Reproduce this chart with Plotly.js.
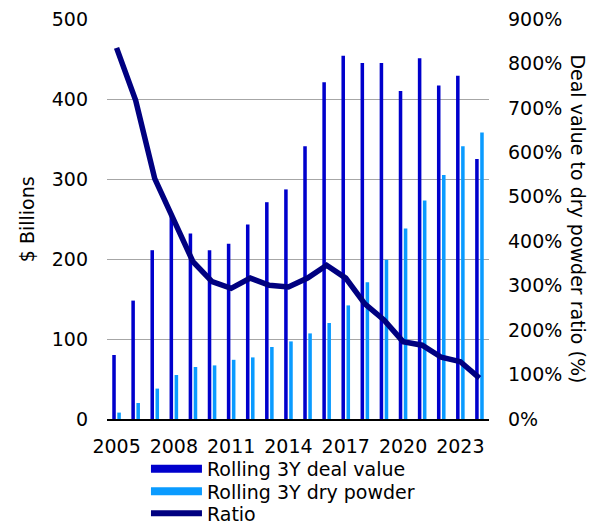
<!DOCTYPE html>
<html>
<head>
<meta charset="utf-8">
<script src="https://cdn.plot.ly/plotly-3.0.1.min.js"></script>
<style>html,body{margin:0;padding:0;background:#fff;}#chart{width:590px;height:525px;}</style>
</head>
<body>
<div id="chart"></div>
<script>
var years = [2005,2006,2007,2008,2009,2010,2011,2012,2013,2014,2015,2016,2017,2018,2019,2020,2021,2022,2023,2024];
var dealValue = [80,148,211,254,232,211,219,243,271,287,341,421,454,445,445,410,451,417,429,325];
var dryPowder = [8,20,38,55,65,67,74,77,90,97,107,120,142,171,199,238,273,305,341,358];
var ratio = [835,717,541,450,354,309,294,317,301,297,317,346,317,259,223,174,166,139,129,92];
var tickYears = [2005,2008,2011,2014,2017,2020,2023];
var seriesNames = ['Rolling 3Y deal value','Rolling 3Y dry powder','Ratio'];

var cDeal = '#0000CC', cPowder = '#0A9BFF', cRatio = '#000080';
var font = {family: 'DejaVu Sans, sans-serif', size: 19, color: '#000'};

var traces = [
  {type:'bar', x:years, y:dealValue, name:seriesNames[0], marker:{color:cDeal}, showlegend:false, hoverinfo:'y'},
  {type:'bar', x:years, y:dryPowder, name:seriesNames[1], marker:{color:cPowder}, showlegend:false, hoverinfo:'y'},
  {type:'scatter', mode:'lines', x:years, y:ratio, yaxis:'y2', name:seriesNames[2], line:{color:cRatio, width:5.5}, showlegend:false},
  {type:'scatter', mode:'lines', x:[null], y:[null], name:seriesNames[0], line:{color:cDeal, width:8}, legend:'legend'},
  {type:'scatter', mode:'lines', x:[null], y:[null], name:seriesNames[1], line:{color:cPowder, width:8}, legend:'legend2'},
  {type:'scatter', mode:'lines', x:[null], y:[null], name:seriesNames[2], line:{color:cRatio, width:6}, legend:'legend3'}
];

function leg(yc) {
  return {orientation:'v', x:0.102, xanchor:'left', yref:'container', y:yc, yanchor:'middle',
    font:font, itemwidth:51, tracegroupgap:0, bgcolor:'rgba(0,0,0,0)'};
}

var layout = {
  width:590, height:525,
  margin:{l:107, r:101, t:19, b:106, pad:0, autoexpand:false},
  paper_bgcolor:'#fff', plot_bgcolor:'#fff',
  font: font,
  barmode:'group', bargap:0.47, bargroupgap:0.3,
  xaxis:{
    range:[2004.5, 2024.5], tickvals:tickYears, ticktext:tickYears.map(String),
    showgrid:false, zeroline:false, showline:true, linecolor:'#000', linewidth:2,
    ticks:'', ticklabelstandoff:9, tickfont:font, automargin:false
  },
  yaxis:{
    range:[0,500], dtick:100, showgrid:true, gridcolor:'#A6A6A6', gridwidth:1,
    zeroline:false, showline:false, ticks:'', ticklabelstandoff:18, tickfont:font, automargin:false
  },
  yaxis2:{
    overlaying:'y', side:'right', range:[0,900], dtick:100, ticksuffix:'%',
    showgrid:false, zeroline:false, showline:false, ticks:'', ticklabelstandoff:18, tickfont:font, automargin:false
  },
  legend: leg(1 - 469/525),
  legend2: leg(1 - 491.5/525),
  legend3: leg(1 - 513.5/525),
  annotations:[
    {xref:'paper', yref:'paper', x:-0.209, y:0.5, xanchor:'center', yanchor:'middle', text:'$ Billions', textangle:-90, showarrow:false, font:font},
    {xref:'paper', yref:'paper', x:1.232, y:0.5, xanchor:'center', yanchor:'middle', text:'Deal value to dry powder ratio (%)', textangle:90, showarrow:false, font:font}
  ]
};

Plotly.newPlot('chart', traces, layout, {displayModeBar:false, staticPlot:true});
</script>
</body>
</html>
